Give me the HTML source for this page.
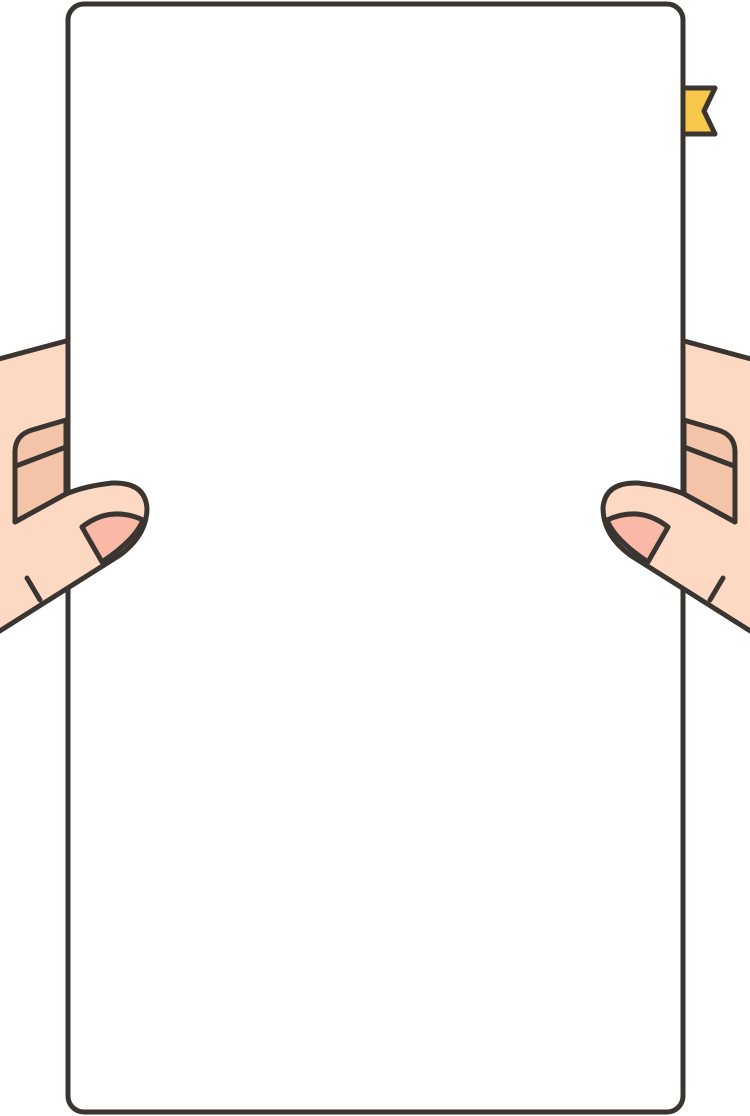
<!DOCTYPE html>
<html><head><meta charset="utf-8"><style>html,body{margin:0;padding:0;background:#fff;width:750px;height:1116px;overflow:hidden}</style></head>
<body>
<svg width="750" height="1116" viewBox="0 0 750 1116">
<defs>
<g id="hand-back">
  <path d="M-5 360 L66 341 L66 500 L-5 540 Z" fill="#fdd9c4" stroke="none"/>
  <path d="M-5 360 L66 341" fill="none" stroke="#3a3531" stroke-width="5" stroke-linecap="round"/>
  <path d="M66 420 L32 430 Q15 435 15 452 L15 522 L66 494 Z" fill="#f3c4a8" stroke="#3a3531" stroke-width="5" stroke-linejoin="round"/>
  <line x1="16" y1="466" x2="66" y2="447" stroke="#3a3531" stroke-width="5"/>
</g>
<g id="hand-front">
  <path d="M-5 634 L120 555 Q147 535 147 508 Q145 482 112 483 Q85 486 66 494 L15 522 L-5 534 Z" fill="#fdd9c4" stroke="none"/>
  <path d="M-5 634 L120 555 Q147 535 147 508 Q145 482 112 483 Q85 486 66 494 L15 522" fill="none" stroke="#3a3531" stroke-width="5" stroke-linejoin="round" stroke-linecap="round"/>
  <path d="M82 527 Q110 505 143 520 Q135 540 102 562 Z" fill="#f9b9a6" stroke="#3a3531" stroke-width="5" stroke-linejoin="round"/>
  <line x1="27" y1="578" x2="40" y2="600" stroke="#3a3531" stroke-width="5" stroke-linecap="round"/>
</g>
</defs>
<g><use href="#hand-back"/></g>
<g><use href="#hand-back" transform="translate(750,0) scale(-1,1)"/></g>
<path d="M680 88 L715 88 L704 111 L715 134 L680 134 Z" fill="#f8c84c" stroke="#3a3531" stroke-width="5" stroke-linejoin="round"/>
<rect x="68" y="4" width="615" height="1108" rx="16" fill="#fff" stroke="#3a3531" stroke-width="5"/>
<g><use href="#hand-front"/></g>
<g><use href="#hand-front" transform="translate(750,0) scale(-1,1)"/></g>
</svg>
</body></html>
